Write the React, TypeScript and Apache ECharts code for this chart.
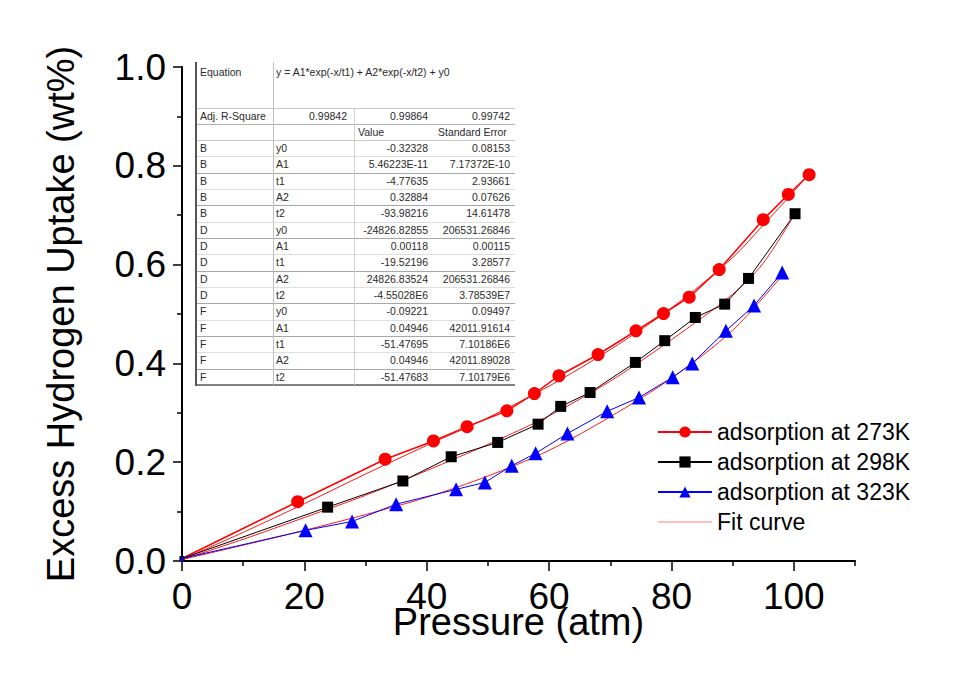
import React, { useEffect, useRef } from "react";
import * as echarts from "echarts";

// ---- Data ----
const red273X = [0, 18.9, 33.2, 41.1, 46.6, 53.1, 57.6, 61.6, 68.0, 74.2, 78.7, 82.9, 87.8, 95.0, 99.1, 102.5];
const red273Y = [0.005, 0.120, 0.206, 0.243, 0.272, 0.304, 0.339, 0.375, 0.418, 0.466, 0.501, 0.534, 0.590, 0.691, 0.742, 0.782];

const black298X = [0, 23.8, 36.1, 44.0, 51.6, 58.2, 61.9, 66.7, 74.1, 78.9, 83.9, 88.7, 92.6, 100.2];
const black298Y = [0.005, 0.109, 0.162, 0.211, 0.240, 0.277, 0.313, 0.341, 0.402, 0.446, 0.493, 0.520, 0.572, 0.703];

const blue323X = [0, 20.2, 27.8, 35.0, 44.8, 49.5, 53.9, 57.8, 63.0, 69.5, 74.7, 80.2, 83.4, 88.9, 93.5, 98.1];
const blue323Y = [0.005, 0.062, 0.080, 0.115, 0.145, 0.159, 0.193, 0.218, 0.258, 0.303, 0.331, 0.372, 0.400, 0.466, 0.517, 0.584];

const fit273X = [0, 10, 20, 30, 40, 50, 60, 70, 80, 90, 95, 100, 102.5];
const fit273Y = [0.003, 0.058, 0.116, 0.176, 0.234, 0.290, 0.354, 0.428, 0.512, 0.614, 0.680, 0.748, 0.784];

const fit298X = [0, 10, 20, 30, 40, 50, 60, 70, 80, 90, 95, 100.2];
const fit298Y = [0.003, 0.044, 0.088, 0.133, 0.183, 0.236, 0.294, 0.364, 0.448, 0.540, 0.603, 0.703];

const fit323X = [0, 10, 20, 30, 40, 50, 60, 70, 80, 90, 98.1];
const fit323Y = [0.003, 0.032, 0.062, 0.094, 0.129, 0.172, 0.224, 0.292, 0.370, 0.467, 0.578];

const seriesNames = ["adsorption at 273K", "adsorption at 298K", "adsorption at 323K", "Fit curve"];

const xMajorTicks = [0, 20, 40, 60, 80, 100];
const xMinorTicks = [10, 30, 50, 70, 90, 110];

// ---- Fit table text ----
const equationText = "y = A1*exp(-x/t1) + A2*exp(-x/t2) + y0";
const adjRSquare = ["0.99842", "0.99864", "0.99742"];
const tableGroups = ["B", "B", "B", "B", "B", "D", "D", "D", "D", "D", "F", "F", "F", "F", "F"];
const tableParams = ["y0", "A1", "t1", "A2", "t2", "y0", "A1", "t1", "A2", "t2", "y0", "A1", "t1", "A2", "t2"];
const tableValues = [
  "-0.32328", "5.46223E-11", "-4.77635", "0.32884", "-93.98216",
  "-24826.82855", "0.00118", "-19.52196", "24826.83524", "-4.55028E6",
  "-0.09221", "0.04946", "-51.47695", "0.04946", "-51.47683",
];
const tableErrors = [
  "0.08153", "7.17372E-10", "2.93661", "0.07626", "14.61478",
  "206531.26846", "0.00115", "3.28577", "206531.26846", "3.78539E7",
  "0.09497", "42011.91614", "7.10186E6", "42011.89028", "7.10179E6",
];

const FONT = "'Liberation Sans', Arial, Helvetica, sans-serif";

function pairs(xs: number[], ys: number[]) {
  return xs.map((x, i) => [x, ys[i]]);
}

function buildTable() {
  const L = 196, C1 = 273, C2 = 354, R = 515;
  const top = 62, eqBottom = 108, adjBottom = 124, valBottom = 140, rowH = 16.33;
  const bottom = valBottom + rowH * tableGroups.length;
  const fs = 10.5;
  const txt = "#2a2a2a";
  const els: any[] = [];
  els.push({ type: "rect", shape: { x: L, y: top, width: R - L, height: bottom - top }, style: { fill: "#fff" }, silent: true });
  const hline = (y: number, color: string, w = 1) =>
    els.push({ type: "line", shape: { x1: L, y1: y, x2: R, y2: y }, style: { stroke: color, lineWidth: w }, silent: true });
  const vline = (x: number, y1: number, y2: number, color: string, w = 1) =>
    els.push({ type: "line", shape: { x1: x, y1, x2: x, y2 }, style: { stroke: color, lineWidth: w }, silent: true });
  const text = (s: string, x: number, y: number, align = "left") =>
    els.push({
      type: "text",
      style: { text: s, x, y, fill: txt, fontSize: fs, fontFamily: FONT, align, verticalAlign: "middle" },
      silent: true,
    });

  hline(eqBottom + 0.5, "#c8c8c8");
  hline(adjBottom + 0.5, "#b0b0b0");
  hline(valBottom + 0.5, "#c8c8c8");
  for (let i = 0; i < tableGroups.length - 1; i++) {
    const y = Math.round(valBottom + rowH * (i + 1)) + 0.5;
    hline(y, i % 2 === 0 ? "#dedede" : "#a8a8a8");
  }
  hline(bottom, "#808080", 2);
  vline(L, top, bottom + 1, "#555", 2);
  vline(C1 + 0.5, top, bottom, "#c0c0c0");
  vline(C2 + 0.5, eqBottom, bottom, "#d0d0d0");

  text("Equation", 200, 72);
  text(equationText, 276, 72);
  text("Adj. R-Square", 200, 116);
  text(adjRSquare[0], 347, 116, "right");
  text(adjRSquare[1], 428, 116, "right");
  text(adjRSquare[2], 510, 116, "right");
  text("Value", 358, 132);
  text("Standard Error", 438, 132);
  for (let i = 0; i < tableGroups.length; i++) {
    const y = valBottom + rowH * (i + 0.5);
    text(tableGroups[i], 200, y);
    text(tableParams[i], 276, y);
    text(tableValues[i], 428, y, "right");
    text(tableErrors[i], 510, y, "right");
  }
  return els;
}

export default function App() {
  const ref = useRef<HTMLDivElement>(null);
  useEffect(() => {
    if (!ref.current) return;
    const chart = echarts.init(ref.current, undefined, { renderer: "svg" });
    const axisColor = "#000";
    const originSize = 5;
    const withOrigin = (d: number[][]) =>
      d.map((p, i) => (i === 0 ? { value: p, symbolSize: originSize } : p));
    chart.setOption({
      animation: false,
      backgroundColor: "#fff",
      textStyle: { fontFamily: FONT },
      grid: { left: 182, right: 121, top: 67, bottom: 120, containLabel: false },
      legend: {
        orient: "vertical",
        left: 652,
        top: 413,
        itemWidth: 54,
        itemHeight: 14,
        itemGap: 2,
        textStyle: { fontSize: 23, lineHeight: 28, color: "#000", fontFamily: FONT },
        data: [
          { name: seriesNames[0] },
          { name: seriesNames[1] },
          { name: seriesNames[2] },
          {
            name: seriesNames[3],
            itemStyle: { opacity: 0, color: "rgba(0,0,0,0)", borderWidth: 0 },
            lineStyle: { color: "#ff8080", width: 1, opacity: 1 },
          },
        ],
      },
      xAxis: [
        {
          type: "value",
          min: 0,
          max: 110,
          interval: 20,
          name: "Pressure (atm)",
          nameLocation: "middle",
          nameGap: 42,
          nameMoveOverlap: false,
          nameTextStyle: { fontSize: 38, color: "#000", fontFamily: FONT },
          axisLine: { show: true, onZero: false, lineStyle: { color: axisColor, width: 2 } },
          axisTick: { show: true, inside: false, length: 10, customValues: xMajorTicks, lineStyle: { color: axisColor, width: 1.5 } },
          axisLabel: { fontSize: 37, color: "#000", margin: 17, customValues: xMajorTicks, fontFamily: FONT },
          splitLine: { show: false },
        },
        {
          type: "value",
          min: 0,
          max: 110,
          position: "bottom",
          axisLine: { show: false },
          axisTick: { show: true, inside: false, length: 5, customValues: xMinorTicks, lineStyle: { color: axisColor, width: 1.5 } },
          axisLabel: { show: false },
          splitLine: { show: false },
        },
      ],
      yAxis: {
        type: "value",
        min: 0,
        max: 1,
        interval: 0.2,
        name: "Excess Hydrogen Uptake (wt%)",
        nameLocation: "middle",
        nameRotate: 90,
        nameGap: 102,
        nameMoveOverlap: false,
        nameTextStyle: { fontSize: 38, color: "#000", fontFamily: FONT },
        axisLine: { show: true, onZero: false, lineStyle: { color: axisColor, width: 2 } },
        axisTick: { show: true, inside: false, length: 9, lineStyle: { color: axisColor, width: 1.5 } },
        minorTick: { show: true, splitNumber: 2, length: 5, lineStyle: { color: axisColor, width: 1.5 } },
        axisLabel: { fontSize: 37, color: "#000", margin: 16, formatter: (v: number) => v.toFixed(1), fontFamily: FONT },
        splitLine: { show: false },
        minorSplitLine: { show: false },
      },
      graphic: buildTable(),
      series: [
        {
          name: seriesNames[3], type: "line", data: pairs(fit273X, fit273Y), symbol: "none", smooth: 0.3,
          lineStyle: { color: "#ff1a1a", width: 1 }, itemStyle: { color: "#ff1a1a" }, z: 1,
        },
        {
          name: seriesNames[3], type: "line", data: pairs(fit298X, fit298Y), symbol: "none", smooth: 0.3,
          lineStyle: { color: "#ff1a1a", width: 1 }, itemStyle: { color: "#ff1a1a" }, z: 1,
        },
        {
          name: seriesNames[3], type: "line", data: pairs(fit323X, fit323Y), symbol: "none", smooth: 0.3,
          lineStyle: { color: "#ff1a1a", width: 1 }, itemStyle: { color: "#ff1a1a" }, z: 1,
        },
        {
          name: seriesNames[0], type: "line", data: withOrigin(pairs(red273X, red273Y)),
          symbol: "circle", symbolSize: 13, showAllSymbol: true,
          itemStyle: { color: "#ff0000" }, lineStyle: { color: "#ff0000", width: 1.5 }, z: 3,
        },
        {
          name: seriesNames[1], type: "line", data: withOrigin(pairs(black298X, black298Y)),
          symbol: "rect", symbolSize: 11, showAllSymbol: true,
          itemStyle: { color: "#000000" }, lineStyle: { color: "#000000", width: 1 }, z: 3,
        },
        {
          name: seriesNames[2], type: "line", data: withOrigin(pairs(blue323X, blue323Y)),
          symbol: "triangle", symbolSize: 14, showAllSymbol: true,
          itemStyle: { color: "#0000ff" }, lineStyle: { color: "#0000ff", width: 1 }, z: 3,
        },
      ],
    });
    return () => chart.dispose();
  }, []);
  return <div ref={ref} style={{ position: "absolute", left: 0, top: 0, width: 976, height: 681 }} />;
}
